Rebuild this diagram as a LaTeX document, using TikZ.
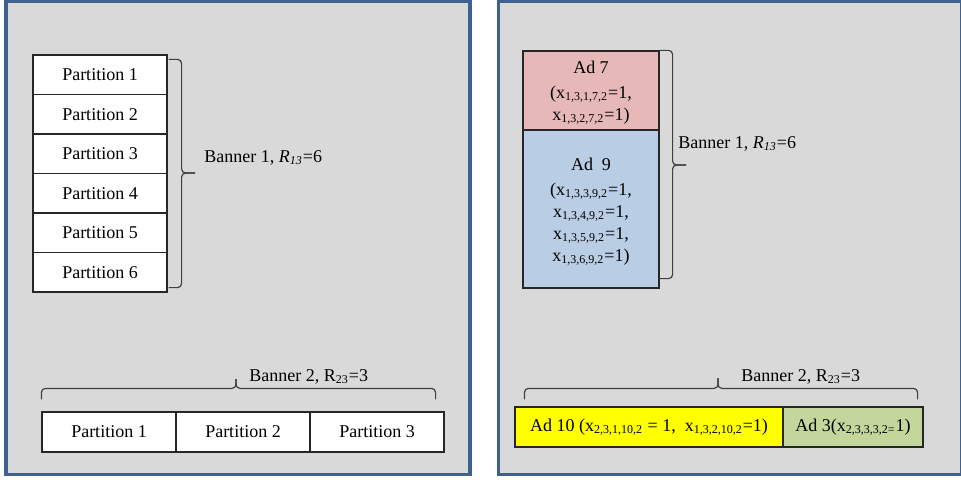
\documentclass[tikz,border=0pt]{standalone}
\usepackage{fontspec}
\setmainfont{Liberation Serif}
\usetikzlibrary{calc}

\definecolor{panelgray}{HTML}{D9D9D9}
\definecolor{panelblue}{HTML}{3F6190}
\definecolor{adpink}{HTML}{E6B9B8}
\definecolor{adblue}{HTML}{B9CDE5}
\definecolor{adyellow}{HTML}{FFFF00}
\definecolor{adgreen}{HTML}{C3D69B}

\tikzset{
  panel/.style={fill=panelgray, draw=panelblue, line width=1.75pt},
  cell/.style={draw=black!85, line width=0.6pt, inner sep=0pt, align=center,
    font=\fontsize{9}{11}\selectfont},
  vpart/.style={cell, fill=white, minimum width=67pt, minimum height=19.75pt},
  hpart/.style={cell, fill=white, minimum width=67pt, minimum height=20pt},
  adtext/.style={inner sep=0pt, align=center, font=\fontsize{9}{11}\selectfont},
  bracket/.style={draw=black!75, line width=0.6pt, rounded corners=2pt},
  label/.style={inner sep=0pt, font=\fontsize{9}{11}\selectfont}
}

\begin{document}
\begin{tikzpicture}[x=0.5pt, y=-0.5pt]
\useasboundingbox (0,0) rectangle (961,480);
\fill[white] (0,0) rectangle (961,480);

% the two panels
\draw[panel] (6,1.5) rectangle (470,474.5);
\draw[panel] (498.5,1.5) rectangle (961.5,474.5);

% ---------- left panel: banner 1, six stacked partitions ----------
\foreach \i/\y in {1/74.75, 2/114.25, 3/153.75, 4/193.25, 5/232.75, 6/272.25}
  \node[vpart] (lp\i) at (100,\y) {Partition \i};

\coordinate (lbA) at ($(lp1.north east)+(1,5)$);
\coordinate (lbB) at ($(lp6.south east)+(1,-5)$);
\coordinate (lbT) at (195,173);
\draw[bracket] (lbA) -- ++(13,0) |- (lbT);
\draw[bracket] (lbB) -- ++(13,0) |- (lbT);
\node[label, anchor=west] (lb1) at (204,158) {Banner 1, \textit{R}\textsubscript{\textit{13}}=6};

% ---------- left panel: banner 2, three partitions in a row ----------
\foreach \i/\x in {1/109, 2/243, 3/377}
  \node[hpart] (hp\i) at (\x,432) {Partition \i};

\coordinate (lcA) at ($(hp1.north west)+(0,-12)$);
\coordinate (lcB) at ($(hp3.north east)+(-9,-12)$);
\coordinate (lcT) at (236,379);
\draw[bracket] (lcA) -- ++(0,-11) -| (lcT);
\draw[bracket] (lcB) -- ++(0,-11) -| (lcT);
\node[label, anchor=west] (lb2) at (249,377) {Banner 2, R\textsubscript{23}=3};

% ---------- right panel: banner 1 filled with ads ----------
\node[cell, fill=adpink, minimum width=68pt, minimum height=39.5pt] (ad7) at (591,90.5) {};
\node[adtext] (ad7t) at ($(ad7.center)+(0,2.5)$)
  {Ad 7\\[1.5pt](x\textsubscript{1,3,1,7,2}=1,\\x\textsubscript{1,3,2,7,2}=1)};
\node[cell, fill=adblue, minimum width=68pt, minimum height=79pt] (ad9) at (591,209) {};
\node[adtext] (ad9t) at ($(ad9.center)+(0,2.5)$)
  {Ad\ \ 9\\[1.5pt](x\textsubscript{1,3,3,9,2}=1,\\x\textsubscript{1,3,4,9,2}=1,\\x\textsubscript{1,3,5,9,2}=1,\\x\textsubscript{1,3,6,9,2}=1)};

\coordinate (rbA) at (ad7.north east);
\coordinate (rbB) at ($(ad9.south east)+(0,-10)$);
\coordinate (rbT) at (686,165);
\draw[bracket] (rbA) -- ++(13,0) |- (rbT);
\draw[bracket] (rbB) -- ++(13,0) |- (rbT);
\node[label, anchor=west] (rb1) at (678,144) {Banner 1, \textit{R}\textsubscript{\textit{13}}=6};

% ---------- right panel: banner 2 filled with ads ----------
\node[cell, fill=adyellow, minimum width=134pt, minimum height=20pt] (ad10) at (649,427)
  {Ad 10 (x\textsubscript{2,3,1,10,2} = 1,\ \ x\textsubscript{1,3,2,10,2}=1)};
\node[cell, fill=adgreen, minimum width=70pt, minimum height=20pt] (ad3) at (853,427)
  {Ad 3(x\textsubscript{2,3,3,3,2=}1)};

\coordinate (rcA) at ($(ad10.north west)+(10,-7)$);
\coordinate (rcB) at ($(ad3.north east)+(-6,-7)$);
\coordinate (rcT) at (718,378);
\draw[bracket] (rcA) -- ++(0,-11) -| (rcT);
\draw[bracket] (rcB) -- ++(0,-11) -| (rcT);
\node[label, anchor=west] (rb2) at (741,377) {Banner 2, R\textsubscript{23}=3};
\end{tikzpicture}
\end{document}
